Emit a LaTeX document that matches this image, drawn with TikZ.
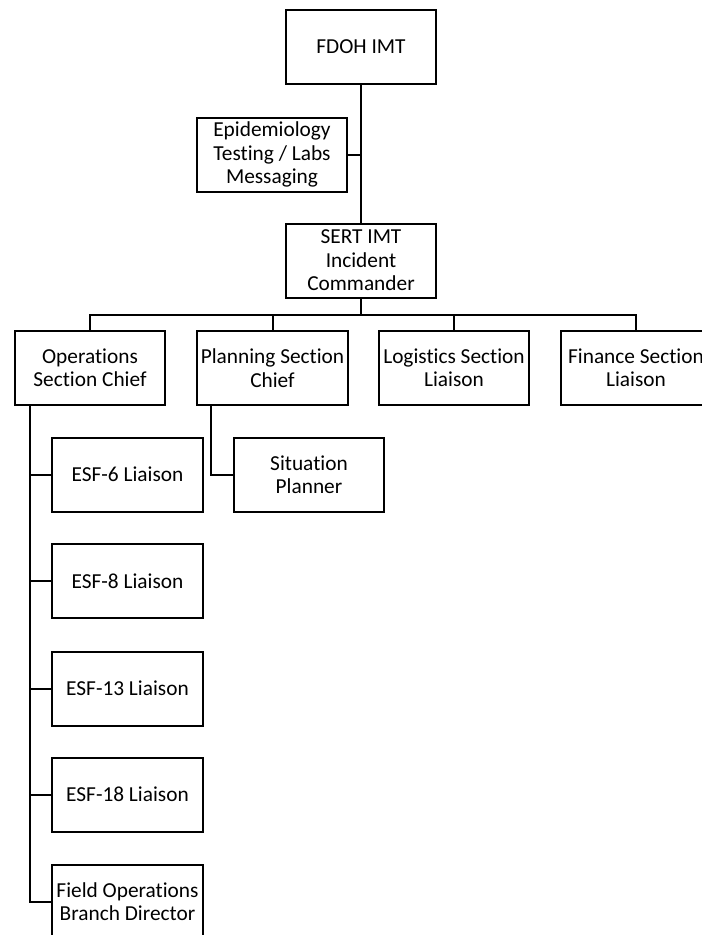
\documentclass[tikz,border=0pt]{standalone}
\usepackage{fontspec}
\setmainfont{Carlito}[Ligatures=NoCommon]
\usetikzlibrary{positioning}

\tikzset{
  box/.style={draw, line width=1.5pt, minimum width=113pt, minimum height=55.5pt, align=center, inner sep=1pt, font=\fontsize{16}{17.6}\selectfont},
  link/.style={line width=1.5pt}
}

\begin{document}
\begin{tikzpicture}[x=0.75pt, y=-0.75pt]
\useasboundingbox ( 0, 0 ) rectangle ( 701, 935 );

% Command
\node [box] (fdoh) at ( 361, 47 ) {FDOH IMT};
\node [box] (epi) at ( 272, 154.5 ) {Epidemiology\\Testing / Labs\\Messaging};
\node [box] (sert) at ( 361, 260.5 ) {SERT IMT\\Incident\\Commander};

% Sections
\node [box] (ops) at ( 90, 368 ) {Operations\\Section Chief};
\node [box] (plan) at ( 272.5, 368 ) {Planning Section\\Chief};
\node [box] (log) at ( 454, 368 ) {Logistics Section\\Liaison};
\node [box] (fin) at ( 636, 368 ) {Finance Section\\Liaison};

% Operations units
\node [box] (esf6) at ( 127.5, 474.5 ) {ESF-6 Liaison};
\node [box] (esf8) at ( 127.5, 581 ) {ESF-8 Liaison};
\node [box] (esf13) at ( 127.5, 688.5 ) {ESF-13 Liaison};
\node [box] (esf18) at ( 127.5, 794.5 ) {ESF-18 Liaison};
\node [box] (field) at ( 127.5, 901.5 ) {Field Operations\\Branch Director};

% Planning unit
\node [box] (sit) at ( 309, 474.5 ) {Situation\\Planner};

% Lines
\draw [link] (fdoh) -- (sert);
\draw [link] (epi.east) -- (epi.east -| fdoh.south);

\coordinate (bus) at ( 361, 315 );
\draw [link] (sert) -- (bus);
\draw [link] (ops.north) |- (bus) -| (fin.north);
\draw [link] (plan.north) -- (plan.north |- bus);
\draw [link] (log.north) -- (log.north |- bus);

\path (ops.south west) ++( 16, 0 ) coordinate (otop);
\draw [link] (otop) |- (field.west);
\draw [link] (esf6.west) -- (esf6.west -| otop);
\draw [link] (esf8.west) -- (esf8.west -| otop);
\draw [link] (esf13.west) -- (esf13.west -| otop);
\draw [link] (esf18.west) -- (esf18.west -| otop);

\path (plan.south west) ++( 15, 0 ) coordinate (ptop);
\draw [link] (ptop) |- (sit.west);

\end{tikzpicture}
\end{document}
